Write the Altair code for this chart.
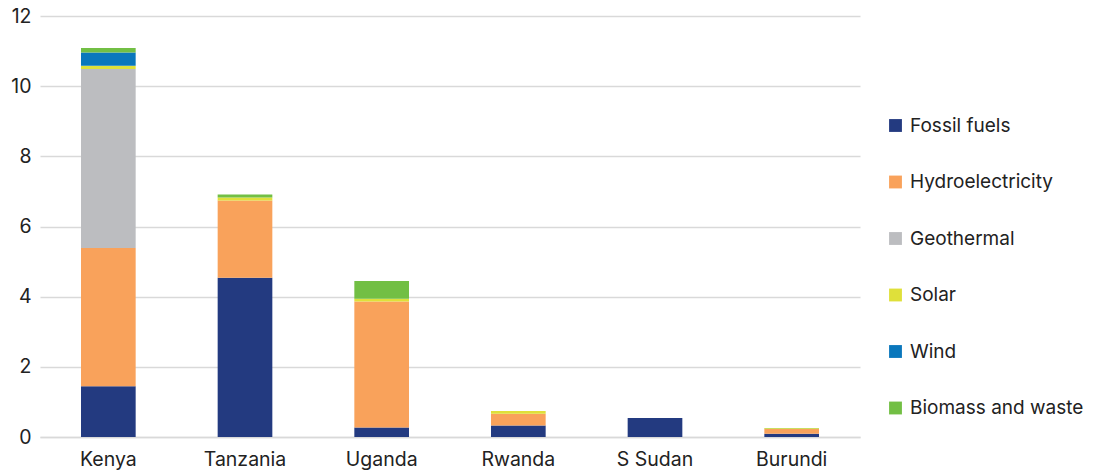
import altair as alt
import pandas as pd

countries = ["Kenya", "Tanzania", "Uganda", "Rwanda", "S Sudan", "Burundi"]
sources = ["Fossil fuels", "Hydroelectricity", "Geothermal", "Solar", "Wind", "Biomass and waste"]
colors = ["#233a80", "#f9a25b", "#bcbdc0", "#dfe03a", "#0a77bc", "#72bf44"]

fossil = [1.45, 4.54, 0.27, 0.33, 0.54, 0.09]
hydro = [3.94, 2.20, 3.59, 0.33, 0.0, 0.14]
geothermal = [5.10, 0.0, 0.0, 0.0, 0.0, 0.0]
solar = [0.09, 0.09, 0.08, 0.08, 0.0, 0.02]
wind = [0.38, 0.0, 0.0, 0.0, 0.0, 0.0]
biomass = [0.13, 0.08, 0.51, 0.0, 0.0, 0.01]

series = [fossil, hydro, geothermal, solar, wind, biomass]
rows = []
for i, (s, vals) in enumerate(zip(sources, series)):
    for c, v in zip(countries, vals):
        rows.append({"country": c, "source": s, "value": v, "idx": i})
df = pd.DataFrame(rows)

FONT = "Inter"
FS = 19.5

chart = alt.Chart(df).mark_bar().encode(
    x=alt.X("country:N", sort=countries, title=None,
            scale=alt.Scale(paddingInner=0.6, paddingOuter=0.3),
            axis=alt.Axis(labelAngle=0, ticks=False, domain=True, domainColor="#d9d9d9",
                          domainWidth=1.5, labelFontSize=FS, labelColor="#222222",
                          labelFont=FONT, labelPadding=13, grid=False)),
    y=alt.Y("sum(value):Q", title=None,
            scale=alt.Scale(domain=[0, 12], nice=False),
            axis=alt.Axis(values=[0, 2, 4, 6, 8, 10, 12], domain=False, ticks=False,
                          gridColor="#d9d9d9", gridWidth=1.5, labelFontSize=FS,
                          labelColor="#222222", labelFont=FONT, labelPadding=9)),
    color=alt.Color("source:N", sort=sources,
                    scale=alt.Scale(domain=sources, range=colors),
                    legend=alt.Legend(title=None, orient="none", legendX=846, legendY=100,
                                      symbolType="square", symbolSize=165,
                                      symbolStrokeWidth=0, labelFontSize=19,
                                      labelFont=FONT, labelColor="#222222", labelLimit=400,
                                      rowPadding=36.5, labelOffset=5, symbolOpacity=1)),
    order=alt.Order("idx:Q", sort="ascending"),
).properties(
    width=820, height=421,
    background="white",
    autosize=alt.AutoSizeParams(type="none"),
    padding={"left": 40, "top": 16, "right": 234, "bottom": 38},
).configure_view(strokeWidth=0, stroke="transparent")

chart.save("out.html", embed_options={"renderer": "svg", "actions": False})
